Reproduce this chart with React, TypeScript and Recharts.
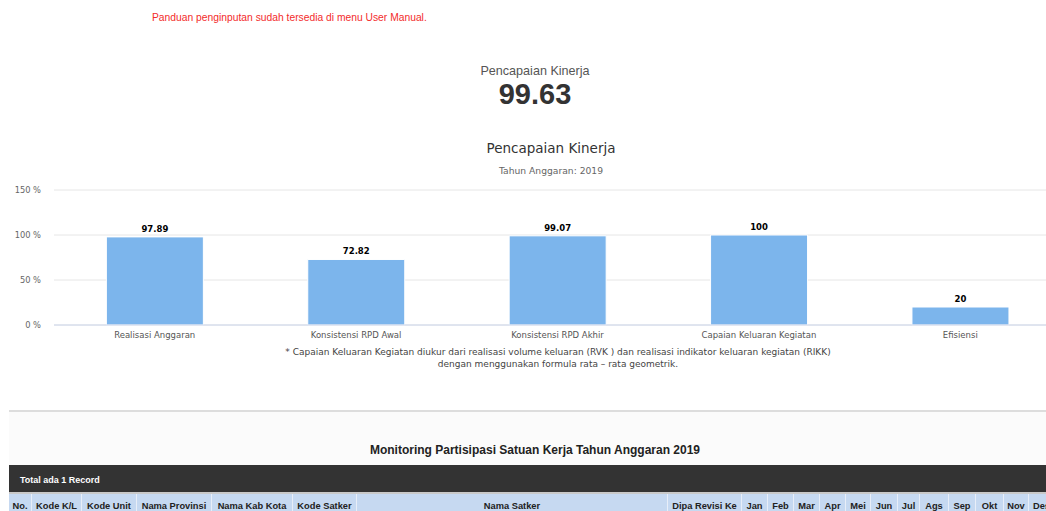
import React from 'react'
import { BarChart, Bar, XAxis, YAxis, CartesianGrid, LabelList } from 'recharts'

const categories = ['Realisasi Anggaran', 'Konsistensi RPD Awal', 'Konsistensi RPD Akhir', 'Capaian Keluaran Kegiatan', 'Efisiensi']
const values = [97.89, 72.82, 99.07, 100, 20]
const yTicks = [0, 50, 100, 150]
const boundaryTicks = [0, 1, 2, 3, 4, 5]

const tableColumns = ['No.', 'Kode K/L', 'Kode Unit', 'Nama Provinsi', 'Nama Kab Kota', 'Kode Satker', 'Nama Satker', 'Dipa Revisi Ke',
  'Jan', 'Feb', 'Mar', 'Apr', 'Mei', 'Jun', 'Jul', 'Ags', 'Sep', 'Okt', 'Nov', 'Des']
const columnWidths = [23, 50, 55, 75, 81, 64, 311, 74, 26, 26, 26, 26, 25, 27, 22, 29, 27, 28, 25, 26]

const chartData = categories.map((name, i) => ({ name, value: values[i] }))

const CHART_FONT = '"DejaVu Sans", Verdana, sans-serif'
const PAGE_FONT = 'Arial, "Liberation Sans", sans-serif'

function Centered({ cx, cy, lh, style, children }: { cx: number; cy: number; lh: number; style: React.CSSProperties; children: React.ReactNode }) {
  return (
    <div style={{
      position: 'absolute',
      left: cx - 400,
      width: 800,
      top: cy - lh / 2,
      lineHeight: `${lh}px`,
      textAlign: 'center',
      whiteSpace: 'nowrap',
      ...style
    }}>
      {children}
    </div>
  )
}

export default function App() {
  return (
    <div style={{ position: 'absolute', left: 0, top: 0, width: 1046, height: 511, overflow: 'hidden', background: '#fff' }}>

      {/* Notice */}
      <div style={{ position: 'absolute', left: 152, top: 11, lineHeight: '14px', fontFamily: PAGE_FONT, fontSize: 10.3, color: '#f32b2b', whiteSpace: 'nowrap' }}>
        Panduan penginputan sudah tersedia di menu User Manual.
      </div>

      {/* Summary */}
      <Centered cx={535} cy={71} lh={16} style={{ fontFamily: PAGE_FONT, fontSize: 12.6, color: '#555' }}>Pencapaian Kinerja</Centered>
      <Centered cx={535} cy={94} lh={32} style={{ fontFamily: PAGE_FONT, fontSize: 29, fontWeight: 700, color: '#333' }}>99.63</Centered>

      {/* Chart title */}
      <Centered cx={551} cy={148} lh={18} style={{ fontFamily: CHART_FONT, fontSize: 13.5, color: '#333' }}>Pencapaian Kinerja</Centered>
      <Centered cx={551} cy={171} lh={12} style={{ fontFamily: CHART_FONT, fontSize: 9.2, color: '#666' }}>Tahun Anggaran: 2019</Centered>

      {/* Chart */}
      <div style={{ position: 'absolute', left: 0, top: 180 }}>
        <BarChart width={1075} height={175} data={chartData} barCategoryGap="26%" margin={{ top: 10, right: 14, left: 0, bottom: 0 }}>
          <CartesianGrid vertical={false} stroke="#e6e6e6" />
          {/* category labels sit right on the plot edge, the boundary-tick axis is stacked just under it */}
          <XAxis
            dataKey="name"
            height={0.01}
            axisLine={false}
            tickLine={false}
            tickSize={0}
            tickMargin={7}
            interval={0}
            tick={{ fontFamily: CHART_FONT, fontSize: 8.5, fill: '#555' }}
          />
          <XAxis
            xAxisId="sep"
            type="number"
            domain={[0, 5]}
            ticks={boundaryTicks}
            height={29.99}
            tick={false}
            tickSize={7}
            axisLine={{ stroke: '#ccd6eb' }}
            tickLine={{ stroke: '#ccd6eb' }}
            allowDataOverflow
          />
          <YAxis
            width={54}
            domain={[0, 150]}
            ticks={yTicks}
            axisLine={false}
            tickLine={false}
            tickSize={0}
            tickMargin={13}
            tickFormatter={(v: number) => `${v} %`}
            tick={{ fontFamily: CHART_FONT, fontSize: 8.3, fill: '#666' }}
          />
          <Bar dataKey="value" fill="#7cb5ec" stroke="#fff" strokeWidth={1} isAnimationActive={false}>
            <LabelList dataKey="value" position="top" offset={5} style={{ fontFamily: CHART_FONT, fontSize: 8.5, fontWeight: 700, fill: '#000' }} />
          </Bar>
        </BarChart>
      </div>

      {/* Footnote */}
      <Centered cx={558} cy={352} lh={12} style={{ fontFamily: CHART_FONT, fontSize: 9, color: '#444' }}>
        * Capaian Keluaran Kegiatan diukur dari realisasi volume keluaran (RVK ) dan realisasi indikator keluaran kegiatan (RIKK)
      </Centered>
      <Centered cx={558} cy={364} lh={12} style={{ fontFamily: CHART_FONT, fontSize: 9, color: '#444' }}>
        dengan menggunakan formula rata – rata geometrik.
      </Centered>

      {/* Monitoring section */}
      <div style={{ position: 'absolute', left: 9, top: 410, width: 1100, height: 110, background: '#fbfbfb', borderTop: '2px solid #dddddd' }} />
      <Centered cx={535} cy={450} lh={16} style={{ fontFamily: PAGE_FONT, fontSize: 12, fontWeight: 700, color: '#222' }}>
        Monitoring Partisipasi Satuan Kerja Tahun Anggaran 2019
      </Centered>
      <div style={{ position: 'absolute', left: 9, top: 465, width: 1100, height: 27, background: '#333', borderBottom: '2px solid #c9c9c9' }}>
        <div style={{ position: 'absolute', left: 11, top: 9, lineHeight: '13px', fontFamily: PAGE_FONT, fontSize: 9, fontWeight: 700, color: '#fff' }}>
          Total ada 1 Record
        </div>
      </div>
      <div style={{ position: 'absolute', left: 9, top: 494, height: 24, display: 'flex', background: '#c6d9f1' }}>
        {tableColumns.map((c, i) => (
          <div key={c} style={{
            width: columnWidths[i],
            boxSizing: 'border-box',
            borderRight: '1px solid #e8eef8',
            lineHeight: '24px',
            textAlign: 'center',
            fontFamily: PAGE_FONT,
            fontSize: 9.3,
            fontWeight: 700,
            color: '#222',
            whiteSpace: 'nowrap',
            overflow: 'hidden'
          }}>
            {c}
          </div>
        ))}
      </div>
    </div>
  )
}
